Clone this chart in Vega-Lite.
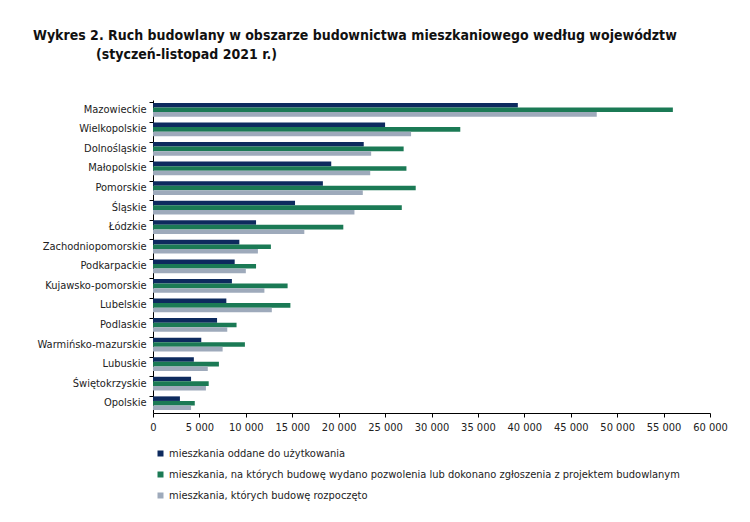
{
  "$schema": "https://vega.github.io/schema/vega-lite/v6.json",
  "autosize": {"type": "none"},
  "width": 557,
  "height": 313,
  "padding": {"left": 153, "top": 100, "right": 40, "bottom": 109},
  "title": {
    "text": ["Wykres 2. Ruch budowlany w obszarze budownictwa mieszkaniowego według województw", "\u200b\u2003\u2003\u2003\u2003\u2003(styczeń-listopad 2021 r.)"],
    "anchor": "start",
    "frame": "group",
    "dx": -120,
    "offset": 38,
    "font": "DejaVu Sans Condensed",
    "fontSize": 14,
    "fontWeight": "bold",
    "lineHeight": 19,
    "color": "#111111"
  },
  "data": {
    "values": [
      {"woj": "Mazowieckie", "seria": "mieszkania oddane do użytkowania", "wartosc": 39300},
      {"woj": "Mazowieckie", "seria": "mieszkania, na których budowę wydano pozwolenia lub dokonano zgłoszenia z projektem budowlanym", "wartosc": 56000},
      {"woj": "Mazowieckie", "seria": "mieszkania, których budowę rozpoczęto", "wartosc": 47800},
      {"woj": "Wielkopolskie", "seria": "mieszkania oddane do użytkowania", "wartosc": 25000},
      {"woj": "Wielkopolskie", "seria": "mieszkania, na których budowę wydano pozwolenia lub dokonano zgłoszenia z projektem budowlanym", "wartosc": 33100},
      {"woj": "Wielkopolskie", "seria": "mieszkania, których budowę rozpoczęto", "wartosc": 27800},
      {"woj": "Dolnośląskie", "seria": "mieszkania oddane do użytkowania", "wartosc": 22700},
      {"woj": "Dolnośląskie", "seria": "mieszkania, na których budowę wydano pozwolenia lub dokonano zgłoszenia z projektem budowlanym", "wartosc": 27000},
      {"woj": "Dolnośląskie", "seria": "mieszkania, których budowę rozpoczęto", "wartosc": 23500},
      {"woj": "Małopolskie", "seria": "mieszkania oddane do użytkowania", "wartosc": 19200},
      {"woj": "Małopolskie", "seria": "mieszkania, na których budowę wydano pozwolenia lub dokonano zgłoszenia z projektem budowlanym", "wartosc": 27300},
      {"woj": "Małopolskie", "seria": "mieszkania, których budowę rozpoczęto", "wartosc": 23400},
      {"woj": "Pomorskie", "seria": "mieszkania oddane do użytkowania", "wartosc": 18300},
      {"woj": "Pomorskie", "seria": "mieszkania, na których budowę wydano pozwolenia lub dokonano zgłoszenia z projektem budowlanym", "wartosc": 28300},
      {"woj": "Pomorskie", "seria": "mieszkania, których budowę rozpoczęto", "wartosc": 22600},
      {"woj": "Śląskie", "seria": "mieszkania oddane do użytkowania", "wartosc": 15300},
      {"woj": "Śląskie", "seria": "mieszkania, na których budowę wydano pozwolenia lub dokonano zgłoszenia z projektem budowlanym", "wartosc": 26800},
      {"woj": "Śląskie", "seria": "mieszkania, których budowę rozpoczęto", "wartosc": 21700},
      {"woj": "Łódzkie", "seria": "mieszkania oddane do użytkowania", "wartosc": 11100},
      {"woj": "Łódzkie", "seria": "mieszkania, na których budowę wydano pozwolenia lub dokonano zgłoszenia z projektem budowlanym", "wartosc": 20500},
      {"woj": "Łódzkie", "seria": "mieszkania, których budowę rozpoczęto", "wartosc": 16300},
      {"woj": "Zachodniopomorskie", "seria": "mieszkania oddane do użytkowania", "wartosc": 9300},
      {"woj": "Zachodniopomorskie", "seria": "mieszkania, na których budowę wydano pozwolenia lub dokonano zgłoszenia z projektem budowlanym", "wartosc": 12700},
      {"woj": "Zachodniopomorskie", "seria": "mieszkania, których budowę rozpoczęto", "wartosc": 11300},
      {"woj": "Podkarpackie", "seria": "mieszkania oddane do użytkowania", "wartosc": 8800},
      {"woj": "Podkarpackie", "seria": "mieszkania, na których budowę wydano pozwolenia lub dokonano zgłoszenia z projektem budowlanym", "wartosc": 11100},
      {"woj": "Podkarpackie", "seria": "mieszkania, których budowę rozpoczęto", "wartosc": 10000},
      {"woj": "Kujawsko-pomorskie", "seria": "mieszkania oddane do użytkowania", "wartosc": 8500},
      {"woj": "Kujawsko-pomorskie", "seria": "mieszkania, na których budowę wydano pozwolenia lub dokonano zgłoszenia z projektem budowlanym", "wartosc": 14500},
      {"woj": "Kujawsko-pomorskie", "seria": "mieszkania, których budowę rozpoczęto", "wartosc": 12000},
      {"woj": "Lubelskie", "seria": "mieszkania oddane do użytkowania", "wartosc": 7900},
      {"woj": "Lubelskie", "seria": "mieszkania, na których budowę wydano pozwolenia lub dokonano zgłoszenia z projektem budowlanym", "wartosc": 14800},
      {"woj": "Lubelskie", "seria": "mieszkania, których budowę rozpoczęto", "wartosc": 12800},
      {"woj": "Podlaskie", "seria": "mieszkania oddane do użytkowania", "wartosc": 6900},
      {"woj": "Podlaskie", "seria": "mieszkania, na których budowę wydano pozwolenia lub dokonano zgłoszenia z projektem budowlanym", "wartosc": 9000},
      {"woj": "Podlaskie", "seria": "mieszkania, których budowę rozpoczęto", "wartosc": 8000},
      {"woj": "Warmińsko-mazurskie", "seria": "mieszkania oddane do użytkowania", "wartosc": 5200},
      {"woj": "Warmińsko-mazurskie", "seria": "mieszkania, na których budowę wydano pozwolenia lub dokonano zgłoszenia z projektem budowlanym", "wartosc": 9900},
      {"woj": "Warmińsko-mazurskie", "seria": "mieszkania, których budowę rozpoczęto", "wartosc": 7500},
      {"woj": "Lubuskie", "seria": "mieszkania oddane do użytkowania", "wartosc": 4400},
      {"woj": "Lubuskie", "seria": "mieszkania, na których budowę wydano pozwolenia lub dokonano zgłoszenia z projektem budowlanym", "wartosc": 7100},
      {"woj": "Lubuskie", "seria": "mieszkania, których budowę rozpoczęto", "wartosc": 5900},
      {"woj": "Świętokrzyskie", "seria": "mieszkania oddane do użytkowania", "wartosc": 4100},
      {"woj": "Świętokrzyskie", "seria": "mieszkania, na których budowę wydano pozwolenia lub dokonano zgłoszenia z projektem budowlanym", "wartosc": 6000},
      {"woj": "Świętokrzyskie", "seria": "mieszkania, których budowę rozpoczęto", "wartosc": 5700},
      {"woj": "Opolskie", "seria": "mieszkania oddane do użytkowania", "wartosc": 2900},
      {"woj": "Opolskie", "seria": "mieszkania, na których budowę wydano pozwolenia lub dokonano zgłoszenia z projektem budowlanym", "wartosc": 4500},
      {"woj": "Opolskie", "seria": "mieszkania, których budowę rozpoczęto", "wartosc": 4100}
    ]
  },
  "mark": {"type": "bar"},
  "encoding": {
    "y": {
      "field": "woj",
      "type": "nominal",
      "sort": null,
      "title": null,
      "scale": {"paddingInner": 0.3, "paddingOuter": 0.15},
      "axis": {
        "bandPosition": 0,
        "domainColor": "#000000",
        "tickColor": "#000000",
        "tickSize": 4,
        "labelPadding": 3,
        "labelFontSize": 11,
        "labelColor": "#222222"
      }
    },
    "yOffset": {"field": "seria", "type": "nominal", "sort": null},
    "x": {
      "field": "wartosc",
      "type": "quantitative",
      "title": null,
      "scale": {"domain": [0, 60000], "nice": false},
      "axis": {
        "values": [0, 5000, 10000, 15000, 20000, 25000, 30000, 35000, 40000, 45000, 50000, 55000, 60000],
        "format": ",d",
        "grid": false,
        "labelOverlap": false,
        "labelFlush": false,
        "domainColor": "#000000",
        "tickColor": "#000000",
        "tickSize": 4,
        "labelPadding": 4,
        "labelFontSize": 11,
        "labelColor": "#222222"
      }
    },
    "color": {
      "field": "seria",
      "type": "nominal",
      "sort": null,
      "scale": {
        "domain": ["mieszkania oddane do użytkowania", "mieszkania, na których budowę wydano pozwolenia lub dokonano zgłoszenia z projektem budowlanym", "mieszkania, których budowę rozpoczęto"],
        "range": ["#0d2a5e", "#1b7a55", "#9eaabb"]
      },
      "legend": {
        "title": null,
        "orient": "none",
        "legendX": 2,
        "legendY": 348,
        "direction": "vertical",
        "symbolType": "square",
        "symbolSize": 36,
        "symbolStrokeWidth": 0,
        "labelFontSize": 11,
        "labelLimit": 600,
        "labelOffset": 3,
        "rowPadding": 9,
        "labelColor": "#222222"
      }
    }
  },
  "config": {
    "font": "DejaVu Sans Condensed",
    "view": {"stroke": null},
    "locale": {
      "number": {"decimal": ",", "thousands": "\u00a0", "grouping": [3], "currency": ["", " zł"]}
    }
  }
}
